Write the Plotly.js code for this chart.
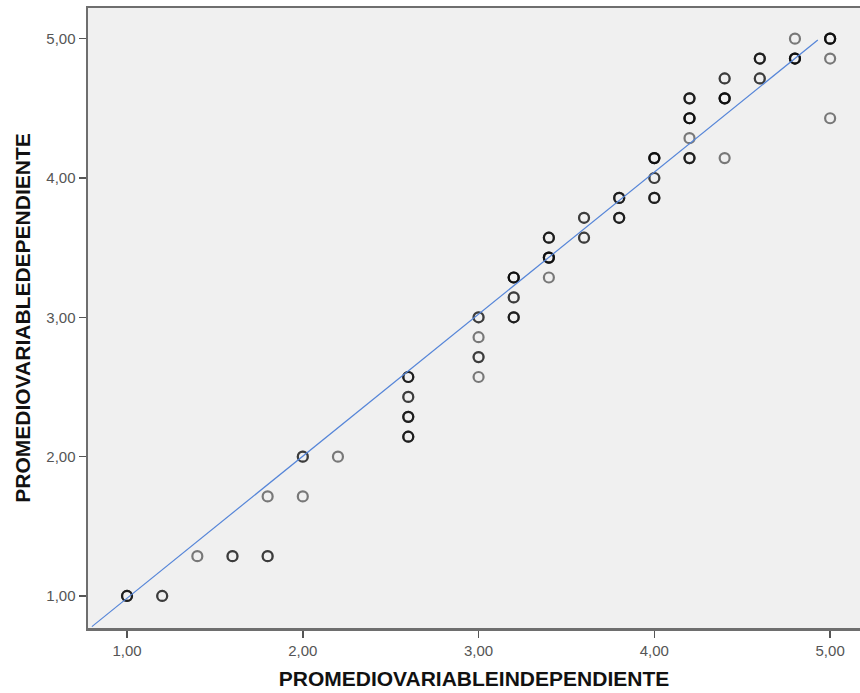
<!DOCTYPE html>
<html>
<head>
<meta charset="utf-8">
<script src="https://cdn.plot.ly/plotly-3.0.1.min.js"></script>
<style>html,body{margin:0;padding:0;background:#fff;}#chart{width:860px;height:693px;}</style>
</head>
<body>
<div id="chart"></div>
<script>
// Unique observed points (independiente, dependiente) and how many cases overlap at each
var pointX = [1.0, 1.2, 1.4, 1.6, 1.8, 1.8, 2.0, 2.0, 2.2,
              2.6, 2.6, 2.6, 2.6, 3.0, 3.0, 3.0, 3.0,
              3.2, 3.2, 3.2, 3.4, 3.4, 3.4, 3.6, 3.6,
              3.8, 3.8, 4.0, 4.0, 4.0, 4.2, 4.2, 4.2, 4.2,
              4.4, 4.4, 4.4, 4.6, 4.6, 4.8, 4.8, 5.0, 5.0, 5.0];
var pointY = [1.0, 1.0, 1.2857, 1.2857, 1.2857, 1.7143, 1.7143, 2.0, 2.0,
              2.1429, 2.2857, 2.4286, 2.5714, 2.5714, 2.7143, 2.8571, 3.0,
              3.0, 3.1429, 3.2857, 3.2857, 3.4286, 3.5714, 3.5714, 3.7143,
              3.7143, 3.8571, 3.8571, 4.0, 4.1429, 4.1429, 4.2857, 4.4286, 4.5714,
              4.1429, 4.5714, 4.7143, 4.7143, 4.8571, 4.8571, 5.0, 5.0, 4.8571, 4.4286];
var pointCount = [3, 2, 1, 2, 2, 1, 1, 2, 1,
                  3, 3, 2, 3, 1, 2, 1, 2,
                  3, 2, 4, 1, 4, 3, 2, 2,
                  3, 3, 3, 2, 4, 3, 1, 4, 3,
                  1, 4, 2, 2, 3, 4, 1, 4, 1, 1];

// Fit line (linear, drawn across the range shown in the reference)
var fitX = [0.80, 4.93];
var fitY = [0.78, 4.99];

// Axis ticks
var tickValues = [1, 2, 3, 4, 5];
var tickLabels = ['1,00', '2,00', '3,00', '4,00', '5,00'];

var xs = [], ys = [];
for (var i = 0; i < pointX.length; i++) {
  for (var k = 0; k < pointCount[i]; k++) { xs.push(pointX[i]); ys.push(pointY[i]); }
}

var traces = [
  {
    x: xs, y: ys, type: 'scatter', mode: 'markers',
    marker: {symbol: 'circle-open', size: 10, color: 'rgba(0,0,0,0.5)', line: {width: 2.2}},
    hoverinfo: 'x+y', showlegend: false
  },
  {
    x: fitX, y: fitY, type: 'scatter', mode: 'lines',
    line: {color: '#5585d8', width: 1.2},
    hoverinfo: 'skip', showlegend: false
  }
];

var axisFont = {family: 'Liberation Sans, Arial, sans-serif', size: 15, color: '#555555'};
var titleFont = {family: 'Liberation Sans, Arial, sans-serif', size: 21, color: '#111111', weight: 'bold'};

var layout = {
  width: 860, height: 693,
  margin: {l: 88, r: 0, t: 8, b: 65},
  paper_bgcolor: '#ffffff',
  plot_bgcolor: '#f0f0f0',
  xaxis: {
    range: [0.778, 5.17],
    tickvals: tickValues, ticktext: tickLabels,
    ticks: 'outside', ticklen: 7, tickwidth: 1.5, tickcolor: '#555555',
    showgrid: false, zeroline: false,
    showline: true, linecolor: '#6e6e6e', linewidth: 2.5, mirror: true,
    tickfont: axisFont,
    title: {text: '<b>PROMEDIOVARIABLEINDEPENDIENTE</b>', font: titleFont, standoff: 14}
  },
  yaxis: {
    range: [0.77, 5.22],
    tickvals: tickValues, ticktext: tickLabels,
    ticks: 'outside', ticklen: 7, tickwidth: 1.5, tickcolor: '#555555',
    showgrid: false, zeroline: false,
    showline: true, linecolor: '#6e6e6e', linewidth: 2.5,
    tickfont: axisFont,
    title: {text: '<b>PROMEDIOVARIABLEDEPENDIENTE</b>', font: titleFont, standoff: 10}
  }
};

Plotly.newPlot('chart', traces, layout, {displayModeBar: false, staticPlot: true});
</script>
</body>
</html>
